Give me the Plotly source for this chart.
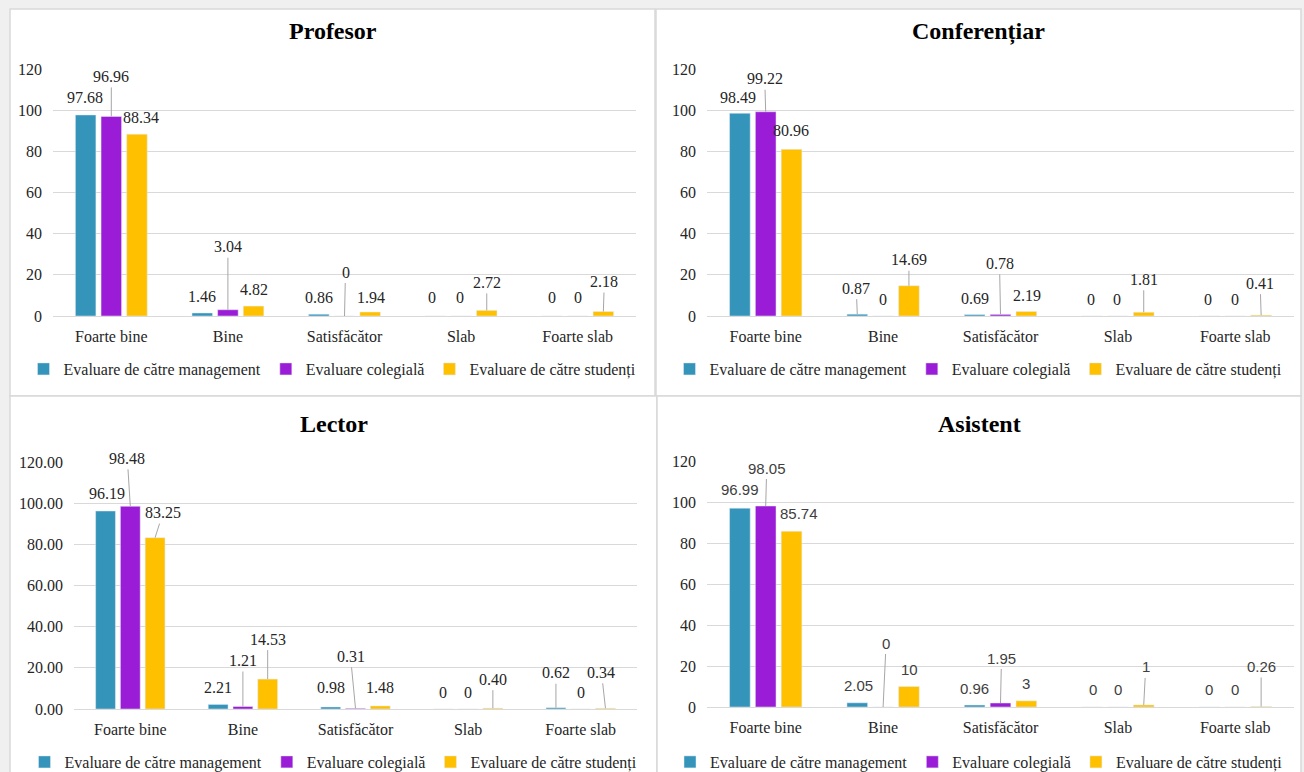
import plotly.graph_objects as go

# ---------------- data ----------------
categories = ["Foarte bine", "Bine", "Satisfăcător", "Slab", "Foarte slab"]
series_names = ["Evaluare de către management", "Evaluare colegială", "Evaluare de către studenți"]
y_ticks = [0, 20, 40, 60, 80, 100, 120]

profesor_management = [97.68, 1.46, 0.86, 0, 0]
profesor_colegiala = [96.96, 3.04, 0, 0, 0]
profesor_studenti = [88.34, 4.82, 1.94, 2.72, 2.18]

conferentiar_management = [98.49, 0.87, 0.69, 0, 0]
conferentiar_colegiala = [99.22, 0, 0.78, 0, 0]
conferentiar_studenti = [80.96, 14.69, 2.19, 1.81, 0.41]

lector_management = [96.19, 2.21, 0.98, 0, 0.62]
lector_colegiala = [98.48, 1.21, 0.31, 0, 0]
lector_studenti = [83.25, 14.53, 1.48, 0.40, 0.34]

asistent_management = [96.99, 2.05, 0.96, 0, 0]
asistent_colegiala = [98.05, 0, 1.95, 0, 0]
asistent_studenti = [85.74, 10, 3, 1, 0.26]

# ---------------- styles / label placement ----------------
colors = ["#3494BA", "#9B1CD6", "#FFC000"]
SERIF = "Liberation Serif, Times New Roman, serif"
SANS = "Liberation Sans, Arial, sans-serif"
W, H = 1304, 772
BARGAP, GROUPGAP = 0.34, 0.2

# label offsets (dx, dy in px from bar top centre, leader line flag) per series per category
prof_lbl = [
    [(-1, -17, 0), (0, -16, 0), (0, -17, 0), (-3, -19, 0), (0, -19, 0)],
    [(0, -40, 1), (0, -63, 1), (1, -44, 1), (-1, -19, 0), (0, -19, 0)],
    [(4, -17, 0), (0, -17, 0), (1, -15, 0), (0, -28, 1), (1, -30, 1)],
]
conf_lbl = [
    [(-2, -16, 0), (-1, -26, 1), (0, -16, 0), (-1, -17, 0), (-1, -17, 0)],
    [(-1, -33, 1), (0, -17, 0), (-1, -51, 1), (-1, -17, 0), (0, -17, 0)],
    [(-1, -19, 0), (0, -26, 1), (1, -16, 0), (0, -33, 1), (-1, -32, 1)],
]
lect_lbl = [
    [(1, -18, 0), (0, -17, 0), (0, -19, 0), (0, -17, 0), (0, -35, 1)],
    [(-3, -48, 1), (0, -46, 1), (-5, -52, 1), (0, -17, 0), (0, -17, 0)],
    [(8, -25, 1), (0, -40, 1), (0, -18, 0), (0, -29, 1), (-4, -36, 1)],
]
asis_lbl = [
    [(0, -19, 0), (1, -17, 0), (0, -17, 0), (1, -18, 0), (0, -18, 0)],
    [(1, -38, 1), (3, -64, 1), (1, -45, 1), (0, -18, 0), (0, -18, 0)],
    [(7, -18, 0), (1, -17, 0), (0, -17, 0), (2, -38, 1), (0, -40, 1)],
]


def fmt_plain(v):
    return "0" if v == 0 else f"{v:g}"


def fmt_2dp(v):
    return "0" if v == 0 else f"{v:.2f}"


panels = [
    dict(title="Profesor", data=[profesor_management, profesor_colegiala, profesor_studenti],
         lbl=prof_lbl, fmt=fmt_plain, lblfont=SERIF, tickfmt="d",
         plot=(53, 636, 69, 316), box=(10, 9, 655, 396), title_y=31, legend_y=369),
    dict(title="Conferențiar", data=[conferentiar_management, conferentiar_colegiala, conferentiar_studenti],
         lbl=conf_lbl, fmt=fmt_plain, lblfont=SERIF, tickfmt="d",
         plot=(707, 1294, 69, 316), box=(656, 9, 1301, 396), title_y=31, legend_y=369),
    dict(title="Lector", data=[lector_management, lector_colegiala, lector_studenti],
         lbl=lect_lbl, fmt=fmt_2dp, lblfont=SERIF, tickfmt=".2f",
         plot=(74, 637, 462, 709), box=(10, 396, 657, 775), title_y=424, legend_y=762),
    dict(title="Asistent", data=[asistent_management, asistent_colegiala, asistent_studenti],
         lbl=asis_lbl, fmt=fmt_plain, lblfont=SANS, tickfmt="d",
         plot=(707, 1294, 461, 707), box=(657, 396, 1301, 775), title_y=424, legend_y=762),
]

fig = go.Figure()
annotations = []
shapes = []
layout_axes = {}

for k, p in enumerate(panels):
    n = "" if k == 0 else str(k + 1)
    xref, yref = "x" + n, "y" + n
    leg = "legend" + n
    x0, x1, ytop, ybot = p["plot"]

    # panel background
    bx0, by0, bx1, by1 = p["box"]
    shapes.append(dict(type="rect", xref="paper", yref="paper",
                       x0=bx0 / W, x1=bx1 / W, y0=1 - by1 / H, y1=1 - by0 / H,
                       fillcolor="white", line=dict(color="#d9d9d9", width=1.5), layer="below"))

    for i, (vals, name) in enumerate(zip(p["data"], series_names)):
        fig.add_trace(go.Bar(x=categories, y=vals, name=name, marker_color=colors[i],
                             xaxis=xref, yaxis=yref, legend=leg, hoverinfo="x+y+name"))

    # data labels with optional leader lines
    slot = (x1 - x0) / len(categories) * (1 - BARGAP) / 3
    for i, vals in enumerate(p["data"]):
        for j, v in enumerate(vals):
            dx, dy, leader = p["lbl"][i][j]
            annotations.append(dict(
                xref=xref, yref=yref, x=categories[j], y=v, xshift=(i - 1) * slot,
                text=p["fmt"](v), showarrow=True, ax=dx, ay=dy,
                arrowhead=0, arrowwidth=1, standoff=0, startstandoff=1,
                arrowcolor="#a6a6a6" if leader else "rgba(0,0,0,0)",
                font=dict(family=p["lblfont"], size=16 if p["lblfont"] == SERIF else 15,
                          color="#262626" if p["lblfont"] == SERIF else "#404040"),
            ))

    # title
    annotations.append(dict(xref="paper", yref="paper", x=(bx0 + bx1) / 2 / W, y=1 - p["title_y"] / H,
                            text="<b>" + p["title"] + "</b>", showarrow=False,
                            xanchor="center", yanchor="middle",
                            font=dict(family=SERIF, size=24, color="#000000")))

    layout_axes["xaxis" + n] = dict(domain=[x0 / W, x1 / W], anchor=yref, type="category",
                                    showgrid=False, showline=True, linecolor="#d9d9d9", linewidth=1,
                                    ticks="", ticklabelstandoff=6, zeroline=False,
                                    tickfont=dict(family=SERIF, size=16, color="#262626"))
    layout_axes["yaxis" + n] = dict(domain=[1 - ybot / H, 1 - ytop / H], anchor=xref,
                                    range=[0, 120], tickvals=y_ticks, tickformat=p["tickfmt"],
                                    showgrid=True, gridcolor="#d9d9d9", gridwidth=1,
                                    zeroline=False, showline=False, ticks="",
                                    ticklabelstandoff=10,
                                    tickfont=dict(family=SERIF, size=16, color="#262626"))
    layout_axes[leg] = dict(orientation="h", x=(bx0 + bx1) / 2 / W, xanchor="center",
                            y=1 - (p["legend_y"] + 17) / H, yanchor="bottom",
                            bgcolor="rgba(0,0,0,0)", itemwidth=30,
                            font=dict(family=SERIF, size=16, color="#262626"))

fig.update_layout(
    width=W, height=H, margin=dict(l=0, r=0, t=0, b=0, autoexpand=False),
    paper_bgcolor="#f0f0f0", plot_bgcolor="rgba(0,0,0,0)",
    barmode="group", bargap=BARGAP, bargroupgap=GROUPGAP,
    showlegend=True, annotations=annotations, shapes=shapes,
    **layout_axes,
)

fig.write_html("out.html", config={"displayModeBar": False},
               post_script="document.body.style.margin='0px';")
